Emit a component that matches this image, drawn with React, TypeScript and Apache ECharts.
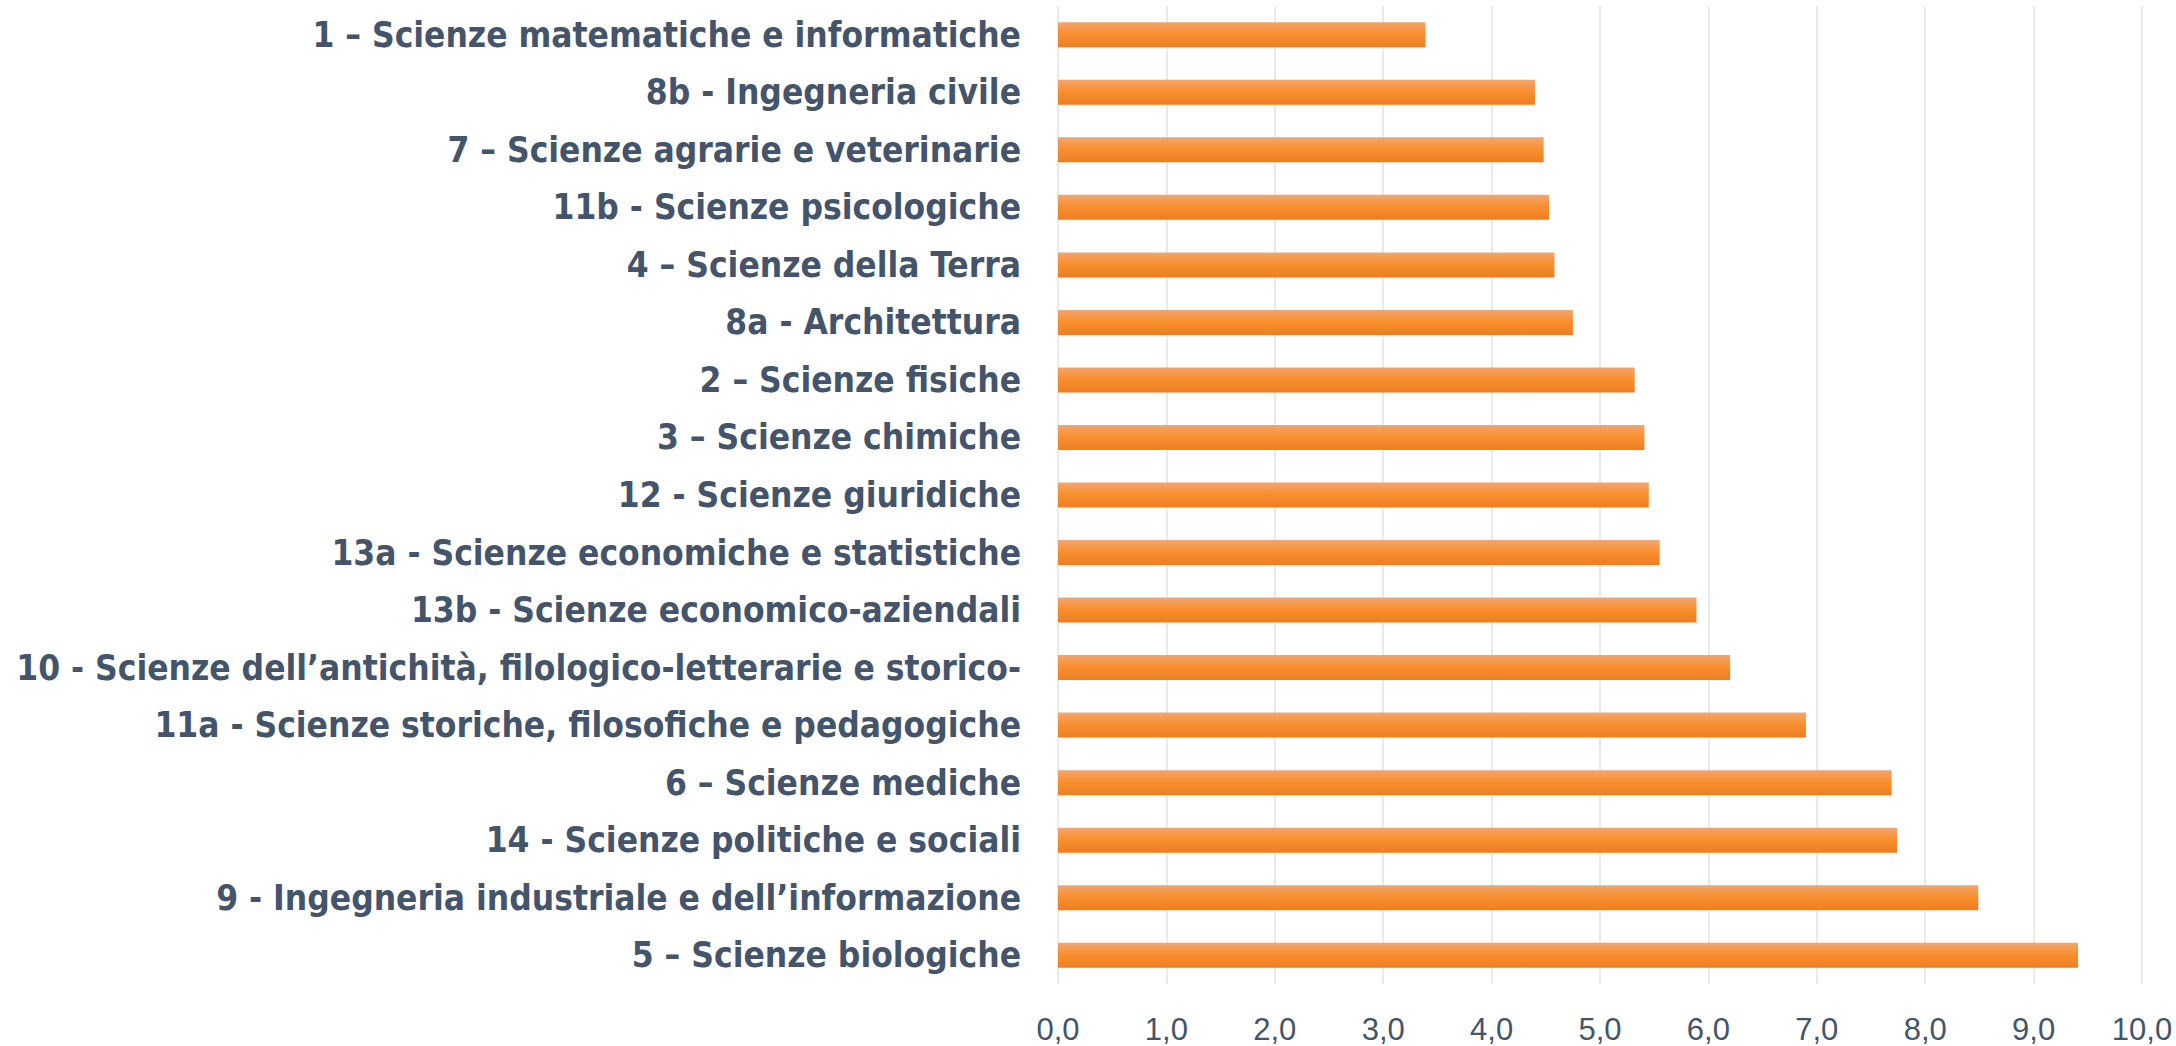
import React, { useEffect, useRef } from "react";
import * as echarts from "echarts";

const categories = [
  "1 – Scienze matematiche e informatiche",
  "8b - Ingegneria civile",
  "7 – Scienze agrarie e veterinarie",
  "11b - Scienze psicologiche",
  "4 – Scienze della Terra",
  "8a - Architettura",
  "2 – Scienze fisiche",
  "3 – Scienze chimiche",
  "12 - Scienze giuridiche",
  "13a - Scienze economiche e statistiche",
  "13b - Scienze economico-aziendali",
  "10 - Scienze dell’antichità, filologico-letterarie e storico-",
  "11a - Scienze storiche, filosofiche e pedagogiche",
  "6 – Scienze mediche",
  "14 - Scienze politiche e sociali",
  "9 - Ingegneria industriale e dell’informazione",
  "5 – Scienze biologiche",
];

const values = [3.39, 4.4, 4.48, 4.53, 4.58, 4.75, 5.32, 5.41, 5.45, 5.55, 5.89, 6.2, 6.9, 7.69, 7.74, 8.49, 9.41];

const xMin = 0;
const xMax = 10;
const xInterval = 1;

export default function App() {
  const ref = useRef<HTMLDivElement>(null);
  useEffect(() => {
    document.body.style.margin = "0";
    const chart = echarts.init(ref.current!, null, { renderer: "svg" });
    chart.setOption({
      animation: false,
      backgroundColor: "#ffffff",
      grid: { left: 1058, right: 34, top: 6, bottom: 62, containLabel: false },
      xAxis: {
        type: "value",
        min: xMin,
        max: xMax,
        interval: xInterval,
        axisLine: { show: false },
        axisTick: { show: false },
        splitLine: { show: true, lineStyle: { color: "#E1E4E9", width: 1.5 } },
        axisLabel: {
          color: "#44546A",
          fontFamily: "'Liberation Sans Narrow', 'Liberation Sans', sans-serif",
          fontSize: 31,
          margin: 30,
          formatter: (v: number) => v.toFixed(1).replace(".", ","),
        },
      },
      yAxis: {
        type: "category",
        data: categories,
        inverse: true,
        axisLine: { show: false },
        axisTick: { show: false },
        splitLine: { show: false },
        axisLabel: {
          color: "#44546A",
          fontFamily: "'DejaVu Sans Condensed', 'DejaVu Sans', sans-serif",
          fontWeight: "bold",
          fontSize: 35,
          margin: 37,
        },
      },
      series: [
        {
          type: "bar",
          data: values,
          barWidth: 25,
          itemStyle: {
            color: new echarts.graphic.LinearGradient(0, 0, 0, 1, [
              { offset: 0, color: "#F4A56F" },
              { offset: 0.45, color: "#F8902F" },
              { offset: 1, color: "#EC7E22" },
            ]),
          },
        },
      ],
    });
    return () => chart.dispose();
  }, []);
  return <div ref={ref} style={{ position: "absolute", left: 0, top: 0, width: 2176, height: 1046 }} />;
}
